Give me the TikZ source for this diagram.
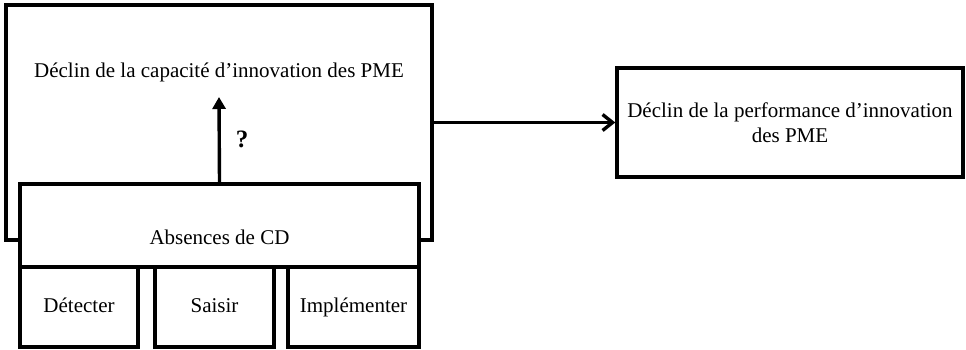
\documentclass[tikz,border=0pt]{standalone}
\usepackage{fontspec}
\setmainfont{Liberation Serif}
\usetikzlibrary{arrows.meta,positioning}

\tikzset{
  box/.style={draw, fill=white, line width=1.7pt, inner sep=0pt},
  lbl/.style={inner sep=0pt, font=\fontsize{10.5}{12.5}\selectfont},
  part/.style={box, lbl, minimum height=40pt, text height=0.7em, text depth=0.2em}
}

\begin{document}
\begin{tikzpicture}[x=0.5pt, y=-0.5pt, line join=miter]

% ---------------------------
% Frame (pixel grid of the picture)
% ---------------------------
\useasboundingbox (0,0) rectangle (966,349);

% ---------------------------
% Outer box: capacity
% ---------------------------
\node[box, minimum width=213pt, minimum height=117.5pt] (capbox) at (219,122.5) {};
\node[lbl] (captxt) at (219,72) {Déclin de la capacité d’innovation des PME};

% ---------------------------
% Inner box and its three parts
% ---------------------------
\node[box, minimum width=199.5pt, minimum height=41.5pt] (cdbox) at (219.5,225.5) {};
\node[lbl] (cdtxt) at (219.5,237) {Absences de CD};

\node[part, minimum width=59pt] (detect) at (79,307) {Détecter};
\node[part, minimum width=59.5pt] (seize) at (214.5,307) {Saisir};
\node[part, minimum width=65.5pt] (impl) at (353.5,307) {Implémenter};

% ---------------------------
% Performance box
% ---------------------------
\node[box, lbl, minimum width=173pt, minimum height=54.5pt, align=center]
  (perfbox) at (790,122.5) {Déclin de la performance d’innovation\\des PME};

% ---------------------------
% Arrows
% ---------------------------
\coordinate (up) at (219,97);
\draw[line width=1.7pt, -{Triangle[length=6pt,width=6.5pt]}] (cdbox.north) -- (up);
\node[lbl, font=\fontsize{12.5}{14}\selectfont\bfseries] (qm) at (242,139) {?};

\draw[line width=1.7pt, -{Straight Barb[length=5pt,width=8pt,line width=1.7pt]}]
  (capbox.east) -- (perfbox.west);

\end{tikzpicture}
\end{document}
